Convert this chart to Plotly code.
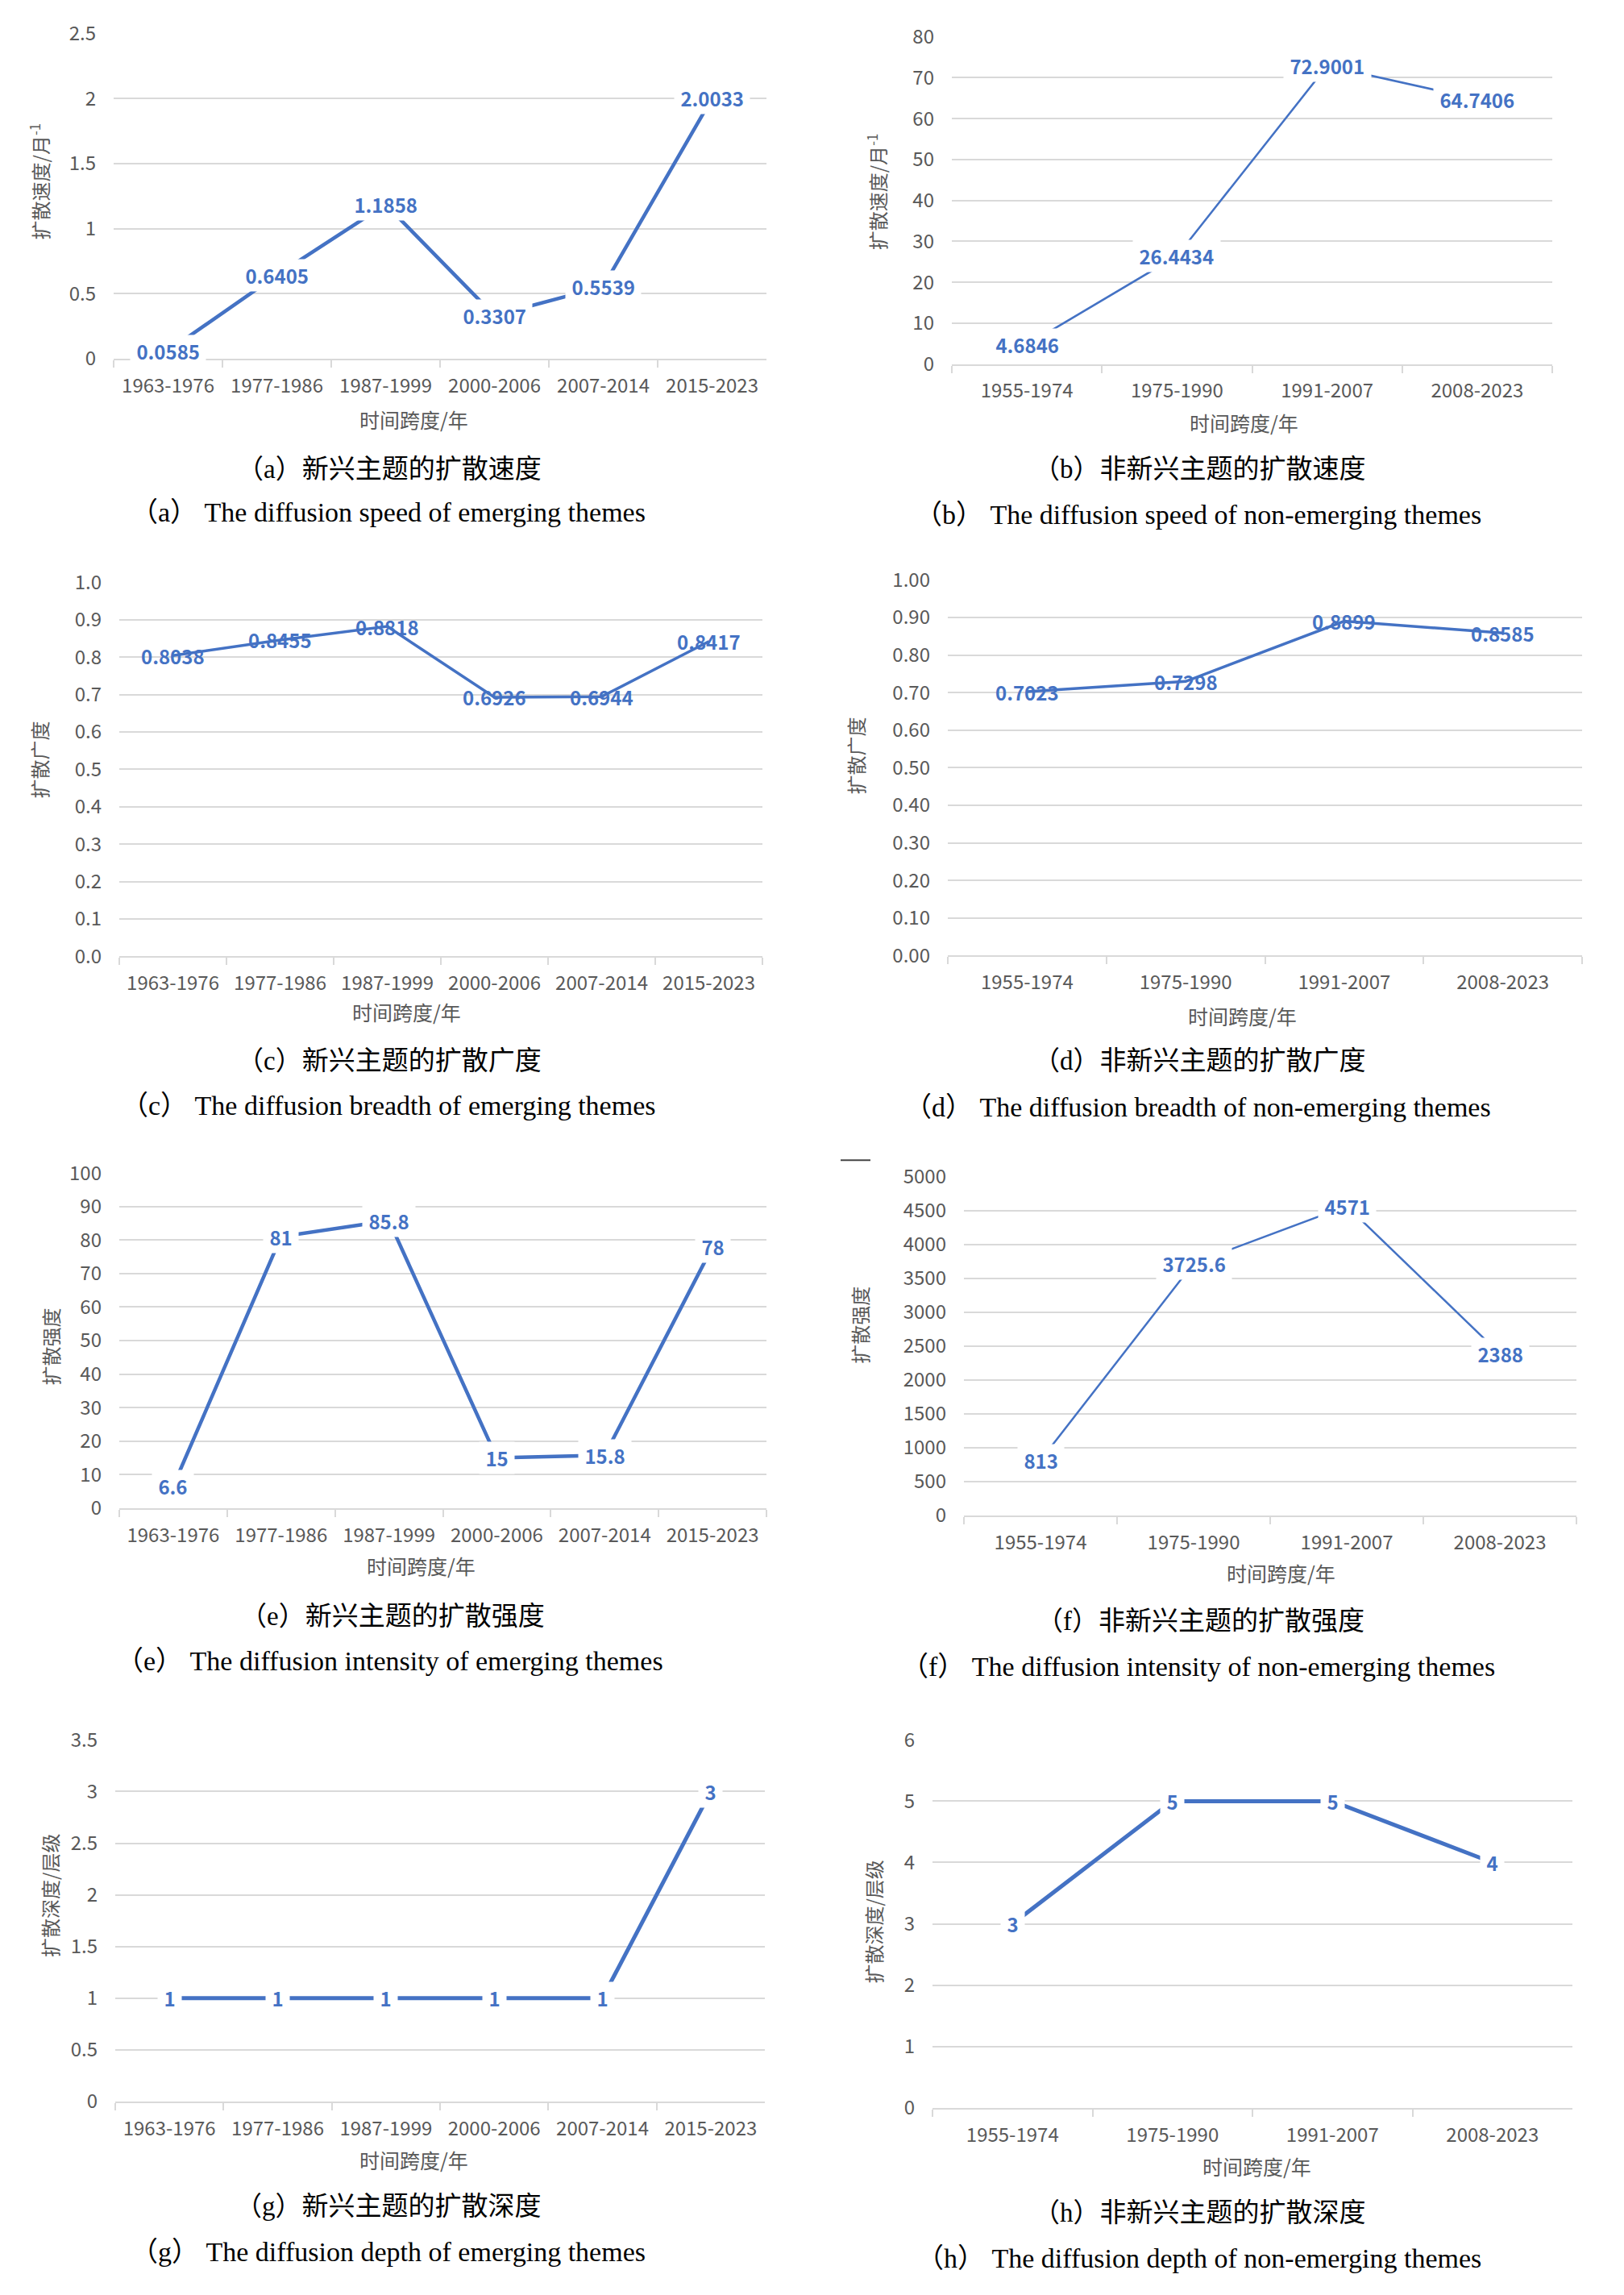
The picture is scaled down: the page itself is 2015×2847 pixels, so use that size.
import plotly.graph_objects as go

# categories
periods_emerging = ["1963-1976", "1977-1986", "1987-1999", "2000-2006", "2007-2014", "2015-2023"]
periods_non = ["1955-1974", "1975-1990", "1991-2007", "2008-2023"]

# series values
speed_emerging = [0.0585, 0.6405, 1.1858, 0.3307, 0.5539, 2.0033]
speed_non = [4.6846, 26.4434, 72.9001, 64.7406]
breadth_emerging = [0.8038, 0.8455, 0.8818, 0.6926, 0.6944, 0.8417]
breadth_non = [0.7023, 0.7298, 0.8899, 0.8585]
intensity_emerging = [6.6, 81, 85.8, 15, 15.8, 78]
intensity_non = [813, 3725.6, 4571, 2388]
depth_emerging = [1, 1, 1, 1, 1, 3]
depth_non = [3, 5, 5, 4]

W, H = 2015, 2847
BLUE = "#4472C4"
GREY = "#595959"
GRID = "#D9D9D9"
SANS = "Noto Sans CJK SC, Noto Sans, sans-serif"
SERIF = "Liberation Serif, Noto Sans CJK SC, serif"
SP = "\u00a0"

def px_x(v):
    return v / W

def px_y(v):
    return 1 - v / H

# panel: cats, values, y range, dtick, tickformat, line width, label bg, titles, pixel box
panels = [
    dict(cats=periods_emerging, vals=speed_emerging, rng=[0, 2.5], dtick=0.5, fmt="", lw=4.5, bg=True,
         ytitle="扩散速度/月<sup>-1</sup>", cn="（a）新兴主题的扩散速度",
         en="（a）" + SP + "The diffusion speed of emerging themes", dy=-18,
         box=(141, 951, 40, 448), yt=(49, 226), xt=(513, 524), cnp=(497, 587), enp=(497, 641)),
    dict(cats=periods_non, vals=speed_non, rng=[0, 80], dtick=10, fmt="", lw=2.5, bg=True,
         ytitle="扩散速度/月<sup>-1</sup>", cn="（b）非新兴主题的扩散速度",
         en="（b）" + SP + "The diffusion speed of non-emerging themes", dy=-18,
         box=(1181, 1926, 44, 455), yt=(1088, 239), xt=(1543, 528), cnp=(1502, 587), enp=(1502, 644)),
    dict(cats=periods_emerging, vals=breadth_emerging, rng=[0, 1.0], dtick=0.1, fmt=".1f", lw=3.5, bg=False,
         ytitle="扩散广度", cn="（c）新兴主题的扩散广度",
         en="（c）" + SP + "The diffusion breadth of emerging themes", dy=-11,
         box=(148, 946, 722, 1192), yt=(49, 945), xt=(505, 1261), cnp=(497, 1323), enp=(497, 1379)),
    dict(cats=periods_non, vals=breadth_non, rng=[0, 1.0], dtick=0.1, fmt=".2f", lw=3.5, bg=False,
         ytitle="扩散广度", cn="（d）非新兴主题的扩散广度",
         en="（d）" + SP + "The diffusion breadth of non-emerging themes", dy=-11,
         box=(1176, 1963, 719, 1191), yt=(1062, 940), xt=(1541, 1266), cnp=(1502, 1323), enp=(1502, 1381)),
    dict(cats=periods_emerging, vals=intensity_emerging, rng=[0, 100], dtick=10, fmt="", lw=4.5, bg=True,
         ytitle="扩散强度", cn="（e）新兴主题的扩散强度",
         en="（e）" + SP + "The diffusion intensity of emerging themes", dy=-2,
         box=(148, 951, 1455, 1876), yt=(62, 1673), xt=(522, 1948), cnp=(501, 2012), enp=(499, 2068)),
    dict(cats=periods_non, vals=intensity_non, rng=[0, 5000], dtick=500, fmt="", lw=2.5, bg=True,
         ytitle="扩散强度", cn="（f）非新兴主题的扩散强度",
         en="（f）" + SP + "The diffusion intensity of non-emerging themes", dy=-2,
         box=(1196, 1956, 1460, 1885), yt=(1067, 1646), xt=(1589, 1957), cnp=(1503, 2018), enp=(1502, 2075)),
    dict(cats=periods_emerging, vals=depth_emerging, rng=[0, 3.5], dtick=0.5, fmt="", lw=5, bg=True,
         ytitle="扩散深度/层级", cn="（g）新兴主题的扩散深度",
         en="（g）" + SP + "The diffusion depth of emerging themes", dy=6,
         box=(143, 949, 2159, 2613), yt=(62, 2355), xt=(513, 2686), cnp=(496, 2745), enp=(497, 2802)),
    dict(cats=periods_non, vals=depth_non, rng=[0, 6], dtick=1, fmt="", lw=5, bg=True,
         ytitle="扩散深度/层级", cn="（h）非新兴主题的扩散深度",
         en="（h）" + SP + "The diffusion depth of non-emerging themes", dy=7,
         box=(1157, 1951, 2158, 2620), yt=(1084, 2387), xt=(1559, 2693), cnp=(1502, 2752), enp=(1503, 2809)),
]

fig = go.Figure()
annotations = []
layout = {}

for i, p in enumerate(panels, start=1):
    xa = "x" if i == 1 else f"x{i}"
    ya = "y" if i == 1 else f"y{i}"
    dy = p["dy"]
    x0, x1, top, bottom = p["box"]
    top, bottom = top + dy, bottom + dy

    fig.add_trace(go.Scatter(
        x=p["cats"], y=p["vals"], mode="lines", xaxis=xa, yaxis=ya,
        line=dict(color=BLUE, width=p["lw"]), showlegend=False, hoverinfo="x+y",
    ))

    layout["xaxis" if i == 1 else f"xaxis{i}"] = dict(
        domain=[px_x(x0), px_x(x1)], anchor=ya, type="category",
        range=[-0.5, len(p["cats"]) - 0.5], showgrid=False, zeroline=False,
        showline=True, linecolor=GRID, linewidth=2,
        ticks="outside", tickson="boundaries", ticklen=9, tickcolor=GRID, tickwidth=2,
        ticklabelstandoff=11,
        tickfont=dict(family=SANS, size=24, color=GREY),
    )
    layout["yaxis" if i == 1 else f"yaxis{i}"] = dict(
        domain=[px_y(bottom), px_y(top)], anchor=xa, range=p["rng"], dtick=p["dtick"],
        tickformat=p["fmt"], showgrid=True, gridcolor=GRID, gridwidth=2, zeroline=False,
        showline=False, ticks="", ticklabelstandoff=21,
        tickfont=dict(family=SANS, size=24, color=GREY),
    )

    # data labels centred on the points
    for c, v in zip(p["cats"], p["vals"]):
        txt = f"<b>{v:g}</b>"
        if p["bg"]:
            txt = SP + txt + SP
        annotations.append(dict(
            x=c, y=v, xref=xa, yref=ya, text=txt, showarrow=False,
            font=dict(family=SANS, size=24, color=BLUE),
            bgcolor="white" if p["bg"] else "rgba(0,0,0,0)", borderpad=2,
            xanchor="center", yanchor="middle",
        ))

    annotations.append(dict(
        x=px_x(p["yt"][0]), y=px_y(p["yt"][1] + dy), xref="paper", yref="paper",
        text=p["ytitle"], textangle=-90, showarrow=False,
        font=dict(family=SANS, size=24, color=GREY), xanchor="center", yanchor="middle",
    ))
    annotations.append(dict(
        x=px_x(p["xt"][0]), y=px_y(p["xt"][1] + dy), xref="paper", yref="paper",
        text="时间跨度/年", showarrow=False,
        font=dict(family=SANS, size=25, color=GREY), xanchor="center", yanchor="middle",
    ))
    annotations.append(dict(
        x=px_x(p["cnp"][0] - 14), y=px_y(p["cnp"][1] + dy), xref="paper", yref="paper",
        text=p["cn"], showarrow=False,
        font=dict(family=SERIF, size=33, color="black"), xanchor="center", yanchor="middle",
    ))
    annotations.append(dict(
        x=px_x(p["enp"][0] - 16), y=px_y(p["enp"][1] + dy), xref="paper", yref="paper",
        text=p["en"], showarrow=False,
        font=dict(family=SERIF, size=34, color="black"), xanchor="center", yanchor="middle",
    ))

fig.update_layout(
    width=W, height=H,
    margin=dict(l=0, r=0, t=0, b=0),
    paper_bgcolor="white", plot_bgcolor="white",
    annotations=annotations,
    shapes=[dict(type="line", xref="paper", yref="paper",
                 x0=px_x(1043), x1=px_x(1080), y0=px_y(1437), y1=px_y(1437),
                 line=dict(color="#444444", width=2))],
    **layout,
)

# drop the default page margin so the figure sits at the window origin
fig.write_html("out.html", config={"displayModeBar": False},
               post_script="document.body.style.margin='0';")
